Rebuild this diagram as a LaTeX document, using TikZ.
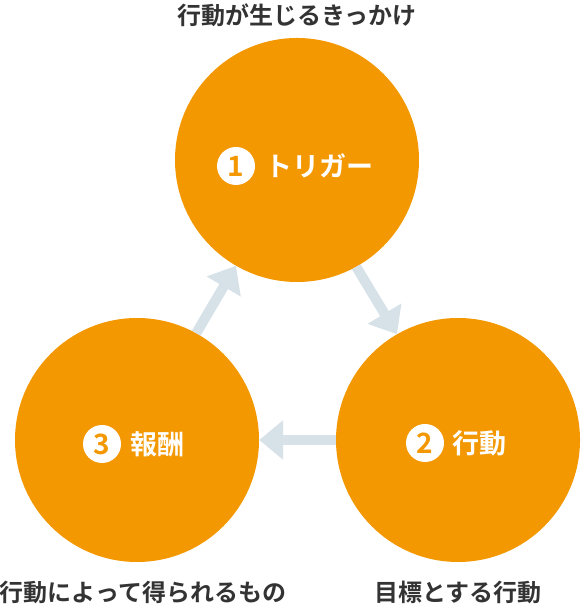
\documentclass[tikz,border=0pt]{standalone}
\usepackage{fontspec}
\newfontfamily\jpfont{Noto Sans CJK JP}[BoldFont={Noto Sans CJK JP Bold}]
\usepackage{xcolor}
\definecolor{stageOrange}{RGB}{243, 152, 0}
\definecolor{cycleGray}{RGB}{214, 225, 232}
\definecolor{labelGray}{RGB}{51, 51, 51}
\usetikzlibrary{arrows.meta, positioning}

\begin{document}
\begin{tikzpicture}[x=1pt, y=1pt,
    stage/.style={
        circle, fill=stageOrange, minimum size=244pt, inner sep=0pt
    },
    badge/.style={
        circle, fill=white, minimum size=38pt, inner sep=0pt,
        text=stageOrange, font=\jpfont\bfseries\fontsize{28}{28}\selectfont
    },
    stagetext/.style={
        anchor=west, inner sep=0pt, text=white,
        font=\jpfont\bfseries\fontsize{27}{27}\selectfont
    },
    caption/.style={
        inner sep=0pt, text=labelGray,
        font=\jpfont\bfseries\fontsize{24}{24}\selectfont
    },
    cyclearr/.style={-{Triangle[width=38pt, length=24pt]}, line width=10pt, cycleGray}
]
\useasboundingbox (0,0) rectangle (580,604);

\node[stage] (trigger) at (297,444) {};
\node[stage] (action)  at (458,164) {};
\node[stage] (reward)  at (137,164) {};

\node[badge] (b1) at (236,438) {1};
\node[badge] (b2) at (425,161) {2};
\node[badge] (b3) at (102,160) {3};

\node[stagetext] (t1) at (265,438) {トリガー};
\node[stagetext] (t2) at (452,161) {行動};
\node[stagetext] (t3) at (130,160) {報酬};

\node[caption] (c1) at (297,589) {行動が生じるきっかけ};
\node[caption] (c2) at (458,12)  {目標とする行動};
\node[caption] (c3) at (143,12)  {行動によって得られるもの};

\draw[cyclearr] (trigger.-61) -- (action.120);
\draw[cyclearr] (action.180) -- (reward.0);
\draw[cyclearr] (reward.61) -- (trigger.-120);

\end{tikzpicture}
\end{document}
